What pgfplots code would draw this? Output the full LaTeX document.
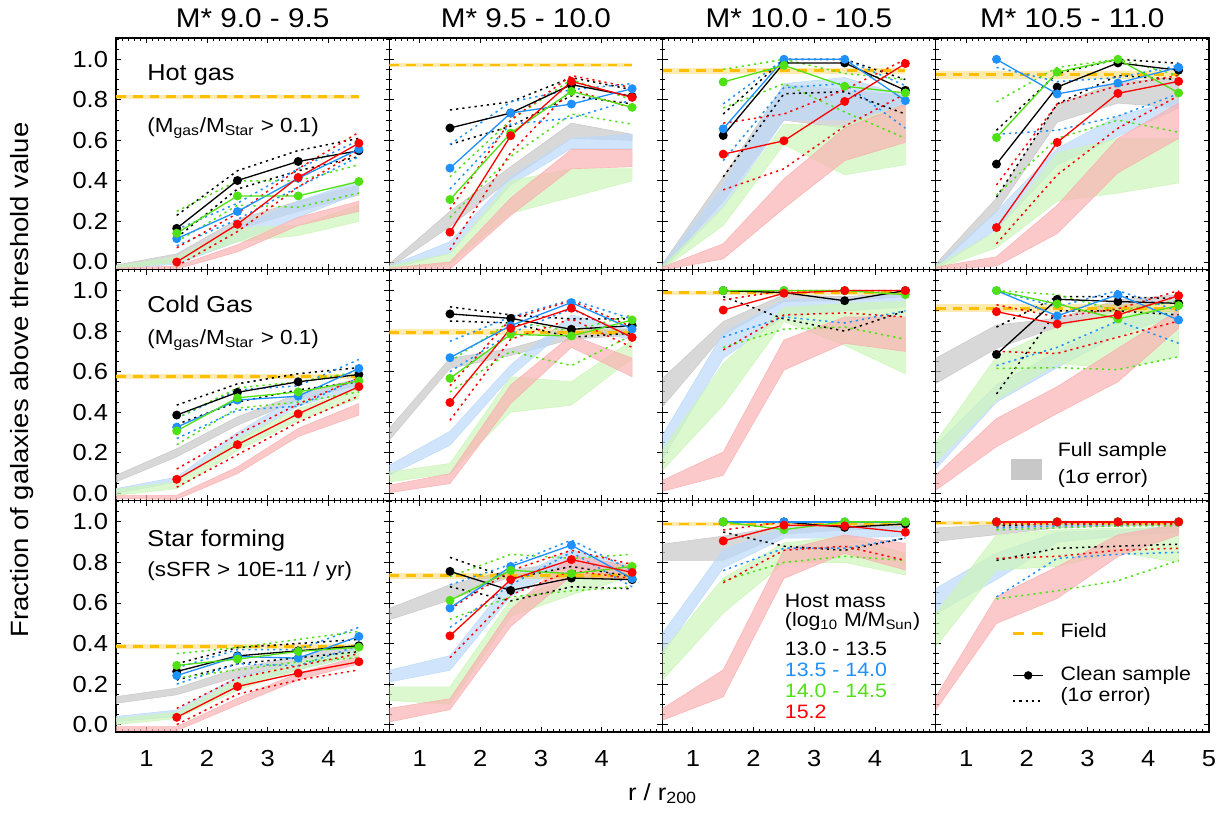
\documentclass[border=0pt]{standalone}
\usepackage{pgfplots}
\pgfplotsset{compat=1.18}
\usepackage{pgfplotstable}
\usepackage{fontspec}
\setmainfont{Liberation Sans}[FakeStretch=1.1]
\definecolor{cB}{RGB}{30,144,255}
\definecolor{cG}{RGB}{80,225,20}
\definecolor{cR}{RGB}{255,0,0}
\definecolor{cF}{RGB}{255,190,0}
\definecolor{fK}{RGB}{200,200,200}
\definecolor{fB}{RGB}{188,218,250}
\definecolor{fG}{RGB}{205,245,185}
\definecolor{fR}{RGB}{250,178,178}

\pgfplotsset{
 panel/.style={scale only axis, width=136.625pt, height=115.65pt, anchor=north west,
   xmin=0.5, xmax=5, ymin=-0.036, ymax=1.105,
   xtick={1,2,3,4,5}, ytick={0,0.2,0.4,0.6,0.8,1.0},
   minor xtick={0.6,0.7,...,4.95}, minor ytick={0,0.05,...,1.1},
   tick align=inside, major tick length=2.6pt, minor tick length=1.4pt,
   axis line style={line width=0.7pt}, every tick/.style={black, line width=0.45pt},
   xticklabels={,,,,}, yticklabels={,,,,,},
   tick label style={font=\fontsize{11.6}{12}\selectfont},
   xticklabel style={anchor=north, inner sep=0pt, yshift=-9.2pt},
   yticklabel style={anchor=east, inner sep=0pt, xshift=-3.8pt},
 },
 errdot/.style={line width=0.75pt, dash pattern=on 1.1pt off 2pt},
 clean/.style={line width=0.65pt, mark=*, mark size=1.9pt, mark options={solid}},
 bandst/.style={fill=#1, fill opacity=0.7, draw=#1, draw opacity=0.9, line width=0.3pt},
}

% #1 band polygon table (x k b g r: lower edge forward, upper edge backward)
% #2 point table, #3 field value, #4/#5 field band limits
\newcommand\errser[4]{%
  \addplot[#4, errdot] table[x=x, y=#2]{#1};
  \addplot[#4, errdot] table[x=x, y=#3]{#1};
}
\newcommand\panel[5]{%
  \addplot[bandst=fK] table[x=x, y=k]{#1};
  \addplot[bandst=fB] table[x=x, y=b]{#1};
  \addplot[bandst=fG] table[x=x, y=g]{#1};
  \addplot[bandst=fR] table[x=x, y=r]{#1};
  \addplot[draw=none, fill=cF, fill opacity=0.3] coordinates {(0.5,#4) (4.5,#4) (4.5,#5) (0.5,#5)};
  \addplot[cF, line width=1.4pt, dash pattern=on 4.9pt off 3.5pt] coordinates {(0.5,#3) (4.5,#3)};
  \errser{#2}{kl}{ku}{black}
  \errser{#2}{bl}{bu}{cB}
  \errser{#2}{gl}{gu}{cG}
  \errser{#2}{rl}{ru}{cR}
  \addplot[black, clean] table[x=x, y=k]{#2};
  \addplot[cB, clean] table[x=x, y=b]{#2};
  \addplot[cG, clean] table[x=x, y=g]{#2};
  \addplot[cR, clean] table[x=x, y=r]{#2};
}

% ---------------- data ----------------
\pgfplotstableread{
x k b g r
0.5 -0.03 -0.035 -0.035 -0.04
1.5 0.0 -0.01 0.0 -0.035
2.5 0.16 0.10 0.10 0.05
3.5 0.25 0.22 0.13 0.18
4.5 0.33 0.34 0.20 0.25
4.5 0.38 0.40 0.28 0.30
3.5 0.30 0.30 0.18 0.22
2.5 0.21 0.17 0.17 0.085
1.5 0.04 0.02 0.025 -0.02
0.5 -0.015 -0.025 -0.02 -0.03
}\bAA
\pgfplotstableread{
x k kl ku b bl bu g gl gu r rl ru
1.5 0.166 0.12 0.23 0.115 0.08 0.16 0.142 0.10 0.25 0.0 -0.02 0.07
2.5 0.402 0.36 0.45 0.249 0.21 0.29 0.326 0.28 0.40 0.186 0.15 0.24
3.5 0.496 0.45 0.55 0.413 0.37 0.46 0.326 0.27 0.40 0.417 0.37 0.46
4.5 0.549 0.52 0.61 0.557 0.52 0.60 0.397 0.34 0.48 0.586 0.55 0.64
}\pAA

\pgfplotstableread{
x k b g r
0.5 -0.03 -0.035 -0.035 -0.04
1.5 0.175 0.045 -0.01 -0.035
2.5 0.41 0.38 0.24 0.23
3.5 0.61 0.56 0.32 0.46
4.5 0.60 0.56 0.40 0.47
4.5 0.63 0.63 0.46 0.555
3.5 0.685 0.61 0.46 0.555
2.5 0.47 0.42 0.40 0.315
1.5 0.25 0.10 0.04 0.0
0.5 -0.01 -0.02 -0.02 -0.03
}\bAB
\pgfplotstableread{
x k kl ku b bl bu g gl gu r rl ru
1.5 0.661 0.58 0.75 0.463 0.36 0.58 0.308 0.22 0.42 0.147 0.06 0.26
2.5 0.735 0.67 0.79 0.735 0.68 0.79 0.636 0.52 0.70 0.623 0.54 0.70
3.5 0.875 0.82 0.91 0.779 0.71 0.85 0.842 0.73 0.90 0.891 0.85 0.92
4.5 0.817 0.78 0.85 0.855 0.80 0.88 0.763 0.68 0.80 0.812 0.76 0.86
}\pAB

\pgfplotstableread{
x k b g r
0.5 -0.03 -0.035 -0.035 -0.04
1.5 0.30 0.27 0.18 0.015
2.5 0.70 0.70 0.58 0.265
3.5 0.66 0.70 0.43 0.50
4.5 0.77 0.77 0.48 0.59
4.5 0.82 0.82 0.78 0.78
3.5 0.85 0.91 0.67 0.66
2.5 0.875 0.88 0.68 0.41
1.5 0.42 0.38 0.27 0.09
0.5 -0.01 -0.015 -0.02 -0.025
}\bAC
\pgfplotstableread{
x k kl ku b bl bu g gl gu r rl ru
1.5 0.624 0.42 0.73 0.657 0.50 0.78 0.888 0.76 0.95 0.532 0.356 0.685
2.5 0.982 0.83 1.0 1.0 0.86 1.0 0.97 0.88 1.0 0.598 0.46 0.73
3.5 0.982 0.84 1.0 1.0 0.88 1.0 0.867 0.74 0.93 0.792 0.67 0.85
4.5 0.847 0.73 0.90 0.796 0.66 0.87 0.834 0.61 0.90 0.979 0.83 1.0
}\pAC

\pgfplotstableread{
x k b g r
0.5 -0.03 -0.035 -0.035 -0.04
1.5 0.25 0.16 0.07 -0.02
2.5 0.69 0.48 0.30 0.14
3.5 0.784 0.62 0.34 0.44
4.5 0.76 0.76 0.39 0.61
4.5 0.908 0.80 0.61 0.784
3.5 0.89 0.72 0.61 0.61
2.5 0.776 0.56 0.537 0.28
1.5 0.315 0.25 0.15 0.026
0.5 -0.01 -0.02 -0.02 -0.025
}\bAD
\pgfplotstableread{
x k kl ku b bl bu g gl gu r rl ru
1.5 0.483 0.32 0.65 1.0 0.63 0.96 0.614 0.33 0.79 0.17 0.09 0.38
2.5 0.863 0.78 0.93 0.829 0.65 0.89 0.937 0.61 0.96 0.59 0.43 0.78
3.5 0.982 0.92 1.0 0.883 0.72 0.91 1.0 0.70 1.0 0.832 0.66 0.87
4.5 0.946 0.90 0.98 0.96 0.83 0.97 0.834 0.64 0.92 0.891 0.82 0.92
}\pAD

\pgfplotstableread{
x k b g r
0.5 0.056 0.0 -0.01 -0.026
1.5 0.18 0.056 0.023 -0.03
2.5 0.336 0.254 0.21 0.097
3.5 0.46 0.43 0.36 0.28
4.5 0.534 0.517 0.468 0.386
4.5 0.567 0.55 0.517 0.443
3.5 0.49 0.48 0.418 0.32
2.5 0.377 0.30 0.27 0.13
1.5 0.22 0.08 0.056 -0.01
0.5 0.089 0.023 0.02 -0.01
}\bBA
\pgfplotstableread{
x k kl ku b bl bu g gl gu r rl ru
1.5 0.386 0.34 0.435 0.326 0.27 0.37 0.308 0.24 0.37 0.069 0.03 0.12
2.5 0.498 0.45 0.54 0.46 0.41 0.51 0.471 0.42 0.52 0.24 0.19 0.29
3.5 0.55 0.51 0.59 0.479 0.43 0.53 0.50 0.45 0.55 0.392 0.35 0.44
4.5 0.586 0.55 0.62 0.616 0.57 0.66 0.554 0.50 0.60 0.526 0.48 0.57
}\pBA

\pgfplotstableread{
x k b g r
0.5 0.262 0.089 0.056 0.003
1.5 0.616 0.237 0.097 0.048
2.5 0.68 0.575 0.40 0.443
3.5 0.76 0.83 0.435 0.72
4.5 0.78 0.756 0.666 0.575
4.5 0.81 0.805 0.756 0.666
3.5 0.80 0.88 0.55 0.78
2.5 0.715 0.633 0.575 0.534
1.5 0.666 0.306 0.147 0.097
0.5 0.32 0.138 0.105 0.04
}\bBB
\pgfplotstableread{
x k kl ku b bl bu g gl gu r rl ru
1.5 0.885 0.85 0.92 0.669 0.60 0.75 0.567 0.50 0.65 0.448 0.36 0.53
2.5 0.863 0.84 0.88 0.827 0.79 0.87 0.784 0.70 0.85 0.814 0.76 0.86
3.5 0.809 0.77 0.86 0.941 0.91 0.955 0.776 0.63 0.80 0.913 0.86 0.95
4.5 0.827 0.79 0.86 0.81 0.77 0.86 0.855 0.78 0.88 0.769 0.72 0.82
}\pBB

\pgfplotstableread{
x k b g r
0.5 0.427 0.17 0.114 0.01
1.5 0.78 0.666 0.435 0.089
2.5 0.946 0.87 0.847 0.608
3.5 0.95 0.90 0.73 0.74
4.5 0.97 0.92 0.59 0.70
4.5 0.99 0.987 0.946 0.87
3.5 0.97 0.96 0.937 0.87
2.5 0.98 0.954 0.916 0.756
1.5 0.847 0.79 0.64 0.204
0.5 0.567 0.287 0.213 0.064
}\bBC
\pgfplotstableread{
x k kl ku b bl bu g gl gu r rl ru
1.5 1.0 0.97 1.0 1.0 0.77 1.0 1.0 0.72 1.0 0.904 0.707 0.954
2.5 0.99 0.86 1.0 1.0 0.87 1.0 1.0 0.81 1.0 0.987 0.88 1.0
3.5 0.95 0.80 1.0 1.0 0.84 1.0 1.0 0.82 1.0 1.0 0.89 1.0
4.5 1.0 0.90 1.0 1.0 0.90 1.0 0.98 0.76 1.0 1.0 0.87 1.0
}\pBC

\pgfplotstableread{
x k b g r
0.5 0.542 0.12 0.155 0.015
1.5 0.715 0.45 0.46 0.23
2.5 0.82 0.62 0.64 0.394
3.5 0.90 0.78 0.616 0.55
4.5 0.95 0.88 0.674 0.814
4.5 0.98 0.93 0.92 0.904
3.5 0.954 0.85 0.913 0.715
2.5 0.863 0.70 0.82 0.526
1.5 0.83 0.534 0.674 0.369
0.5 0.666 0.237 0.254 0.089
}\bBD
\pgfplotstableread{
x k kl ku b bl bu g gl gu r rl ru
1.5 0.685 0.49 0.82 1.0 0.63 1.0 1.0 0.616 1.0 0.896 0.70 0.93
2.5 0.957 0.90 0.97 0.875 0.72 0.92 0.934 0.62 0.98 0.835 0.69 0.87
3.5 0.946 0.90 0.97 0.98 0.85 1.0 0.86 0.61 0.90 0.88 0.77 0.91
4.5 0.937 0.88 0.96 0.855 0.74 0.90 0.926 0.674 0.95 0.975 0.85 1.0
}\pBD

\pgfplotstableread{
x k b g r
0.5 0.105 0.015 0.0 -0.03
1.5 0.147 0.04 0.03 -0.03
2.5 0.237 0.196 0.17 0.097
3.5 0.303 0.27 0.27 0.22
4.5 0.37 0.34 0.34 0.30
4.5 0.40 0.38 0.37 0.336
3.5 0.336 0.30 0.31 0.254
2.5 0.278 0.237 0.22 0.13
1.5 0.18 0.072 0.06 -0.01
0.5 0.138 0.04 0.03 -0.01
}\bCA
\pgfplotstableread{
x k kl ku b bl bu g gl gu r rl ru
1.5 0.262 0.22 0.30 0.242 0.20 0.28 0.292 0.23 0.35 0.036 0.0 0.08
2.5 0.339 0.30 0.38 0.336 0.30 0.37 0.323 0.27 0.38 0.188 0.15 0.23
3.5 0.364 0.33 0.40 0.328 0.29 0.37 0.361 0.31 0.42 0.254 0.22 0.29
4.5 0.389 0.36 0.42 0.435 0.39 0.48 0.382 0.33 0.46 0.31 0.27 0.35
}\pCA

\pgfplotstableread{
x k b g r
0.5 0.517 0.21 0.12 0.013
1.5 0.614 0.268 0.10 0.074
2.5 0.73 0.633 0.534 0.484
3.5 0.77 0.797 0.64 0.733
4.5 0.74 0.72 0.73 0.715
4.5 0.78 0.78 0.805 0.78
3.5 0.80 0.863 0.72 0.836
2.5 0.764 0.715 0.616 0.567
1.5 0.69 0.34 0.186 0.128
0.5 0.573 0.268 0.186 0.08
}\bCB
\pgfplotstableread{
x k kl ku b bl bu g gl gu r rl ru
1.5 0.756 0.68 0.825 0.575 0.48 0.69 0.613 0.52 0.73 0.438 0.33 0.57
2.5 0.662 0.61 0.72 0.78 0.69 0.79 0.761 0.63 0.84 0.715 0.64 0.76
3.5 0.723 0.68 0.78 0.885 0.85 0.91 0.745 0.66 0.82 0.814 0.76 0.86
4.5 0.715 0.67 0.73 0.72 0.68 0.76 0.78 0.68 0.84 0.751 0.72 0.79
}\pCB

\pgfplotstableread{
x k b g r
0.5 0.81 0.35 0.22 0.022
1.5 0.81 0.773 0.55 0.137
2.5 0.94 0.92 0.797 0.721
3.5 0.96 0.92 0.80 0.845
4.5 0.97 0.93 0.738 0.763
4.5 0.99 0.98 0.845 0.894
3.5 0.99 0.97 0.93 0.936
2.5 0.98 0.97 0.896 0.862
1.5 0.93 0.863 0.723 0.27
0.5 0.89 0.45 0.36 0.079
}\bCC
\pgfplotstableread{
x k kl ku b bl bu g gl gu r rl ru
1.5 1.0 0.95 1.0 1.0 0.76 1.0 1.0 0.71 1.0 0.906 0.70 0.96
2.5 1.0 0.88 1.0 1.0 0.87 1.0 0.962 0.80 1.0 0.984 0.86 1.0
3.5 0.973 0.86 1.0 1.0 0.87 1.0 1.0 0.83 1.0 0.98 0.88 1.0
4.5 0.99 0.92 1.0 1.0 0.92 1.0 1.0 0.81 1.0 0.949 0.81 1.0
}\pCC

\pgfplotstableread{
x k b g r
0.5 0.904 0.548 0.384 0.071
1.5 0.937 0.715 0.763 0.499
2.5 0.97 0.90 0.78 0.622
3.5 0.98 0.93 0.85 0.829
4.5 0.98 0.95 0.80 0.936
4.5 1.0 0.98 0.97 0.99
3.5 1.0 0.96 0.97 0.936
2.5 0.99 0.95 0.96 0.779
1.5 0.987 0.845 0.936 0.631
0.5 0.97 0.672 0.548 0.137
}\bCD
\pgfplotstableread{
x k kl ku b bl bu g gl gu r rl ru
1.5 1.0 0.81 0.98 1.0 0.63 0.97 1.0 0.62 0.96 1.0 0.82 0.99
2.5 1.0 0.87 0.99 1.0 0.82 0.98 1.0 0.66 0.97 1.0 0.83 0.99
3.5 1.0 0.88 0.99 1.0 0.84 0.98 1.0 0.71 0.98 1.0 0.86 0.99
4.5 1.0 0.89 0.99 1.0 0.85 0.99 1.0 0.81 0.98 1.0 0.87 0.99
}\pCD

\begin{document}
\begin{tikzpicture}
\useasboundingbox (0,0) rectangle (611pt,-407pt);

% ---- row 1
\begin{axis}[panel, at={(58pt,-19pt)}, yticklabels={0.0,0.2,0.4,0.6,0.8,1.0}]
\panel{\bAA}{\pAA}{0.815}{0.805}{0.825}
\end{axis}
\begin{axis}[panel, at={(194.625pt,-19pt)}]
\panel{\bAB}{\pAB}{0.972}{0.962}{0.982}
\end{axis}
\begin{axis}[panel, at={(331.25pt,-19pt)}]
\panel{\bAC}{\pAC}{0.944}{0.929}{0.959}
\end{axis}
\begin{axis}[panel, at={(467.875pt,-19pt)}]
\panel{\bAD}{\pAD}{0.924}{0.904}{0.944}
\end{axis}

% ---- row 2
\begin{axis}[panel, at={(58pt,-134.65pt)}, yticklabels={0.0,0.2,0.4,0.6,0.8,1.0}]
\panel{\bBA}{\pBA}{0.578}{0.566}{0.590}
\end{axis}
\begin{axis}[panel, at={(194.625pt,-134.65pt)}]
\panel{\bBB}{\pBB}{0.794}{0.779}{0.809}
\end{axis}
\begin{axis}[panel, at={(331.25pt,-134.65pt)}]
\panel{\bBC}{\pBC}{0.99}{0.98}{1.0}
\end{axis}
\begin{axis}[panel, at={(467.875pt,-134.65pt)},
  legend style={at={(0.2783,0.2693)}, anchor=north west, draw=none, fill=none,
    inner sep=0pt, outer sep=0pt, row sep=0pt,
    font=\fontsize{9.7}{10.7}\selectfont,
    nodes={inner sep=0pt, text height=9pt, text depth=4.35pt},
    /tikz/every odd column/.append style={column sep=8pt}},
  legend cell align=left]
\addlegendimage{legend image code/.code={\path[draw=none, fill=none] (0pt,0pt) -- (15pt,0pt);}}
\addlegendentry{Full sample}
\addlegendimage{legend image code/.code={\path[draw=none, fill=none] (0pt,0pt) -- (15pt,0pt); \fill[fK, overlay] (0pt,-0.675pt) rectangle (15pt,9.3pt);}}
\addlegendentry{(1σ error)}
\panel{\bBD}{\pBD}{0.913}{0.893}{0.933}
\end{axis}

% ---- row 3
\begin{axis}[panel, at={(58pt,-250.3pt)}, yticklabels={0.0,0.2,0.4,0.6,0.8,1.0}, xticklabels={1,2,3,4,}]
\panel{\bCA}{\pCA}{0.385}{0.373}{0.397}
\end{axis}
\begin{axis}[panel, at={(194.625pt,-250.3pt)}, xticklabels={1,2,3,4,}]
\panel{\bCB}{\pCB}{0.735}{0.72}{0.75}
\end{axis}
\begin{axis}[panel, at={(331.25pt,-250.3pt)}, xticklabels={1,2,3,4,}]
\panel{\bCC}{\pCC}{0.99}{0.98}{1.0}
\end{axis}
\begin{axis}[panel, at={(467.875pt,-250.3pt)}, xticklabels={1,2,3,4,5},
  legend style={at={(0.2783,0.4773)}, anchor=north west, draw=none, fill=none,
    inner sep=0pt, outer sep=0pt, row sep=0pt,
    font=\fontsize{9.7}{10.7}\selectfont,
    nodes={inner sep=0pt, text height=7.9pt, text depth=2.8pt},
    /tikz/every odd column/.append style={column sep=8pt}},
  legend cell align=left]
\addlegendimage{legend image code/.code={\draw[cF, line width=1.4pt, dash pattern=on 5.5pt off 4pt] (0pt,-0.75pt) -- (15pt,-0.75pt);}}
\addlegendentry{Field}
\addlegendimage{legend image code/.code={\path[draw=none, fill=none] (0pt,0pt) -- (15pt,0pt);}}
\addlegendentry{}
\addlegendimage{legend image code/.code={\draw[black, line width=0.65pt] (0pt,-0.2pt) -- (15pt,-0.2pt); \fill[black] (7.5pt,-0.2pt) circle (1.9pt);}}
\addlegendentry{Clean sample}
\addlegendimage{legend image code/.code={\draw[black, line width=0.75pt, dash pattern=on 1.1pt off 2pt] (0pt,-2.2pt) -- (15pt,-2.2pt);}}
\addlegendentry{(1σ error)}
\panel{\bCD}{\pCD}{0.995}{0.985}{1.005}
\end{axis}

% ---- titles
\begin{scope}[font=\fontsize{13.5}{14}\selectfont]
\node[anchor=base, inner sep=0pt] at (126.3pt,-13.5pt) {M* 9.0 - 9.5};
\node[anchor=base, inner sep=0pt] at (262.9pt,-13.5pt) {M* 9.5 - 10.0};
\node[anchor=base, inner sep=0pt] at (399.5pt,-13.5pt) {M* 10.0 - 10.5};
\node[anchor=base, inner sep=0pt] at (536.1pt,-13.5pt) {M* 10.5 - 11.0};
\end{scope}

% ---- panel annotations
\node[anchor=base west, inner sep=0pt, font=\fontsize{11.5}{12}\selectfont] at (73.5pt,-40.25pt) {Hot gas};
\node[anchor=base west, inner sep=0pt, font=\fontsize{10.2}{12}\selectfont] at (73.5pt,-66.15pt) {(M\textsubscript{gas}/M\textsubscript{Star} > 0.1)};
\node[anchor=base west, inner sep=0pt, font=\fontsize{11.5}{12}\selectfont] at (73.5pt,-156pt) {Cold Gas};
\node[anchor=base west, inner sep=0pt, font=\fontsize{10.2}{12}\selectfont] at (73.5pt,-172.35pt) {(M\textsubscript{gas}/M\textsubscript{Star} > 0.1)};
\node[anchor=base west, inner sep=0pt, font=\fontsize{11.5}{12}\selectfont] at (73.5pt,-273pt) {Star forming};
\node[anchor=base west, inner sep=0pt, font=\fontsize{10.2}{12}\selectfont] at (73.5pt,-288.35pt) {(sSFR > 10E-11 / yr)};

% ---- host mass legend (text)
\begin{scope}[font=\fontsize{9.7}{11}\selectfont]
\node[anchor=base west, inner sep=0pt] at (392.25pt,-303.5pt) {Host mass};
\node[anchor=base west, inner sep=0pt] at (392.25pt,-313.3pt) {(log\textsubscript{10} M/M\textsubscript{Sun})};
\node[anchor=base west, inner sep=0pt] at (392.25pt,-327.65pt) {13.0 - 13.5};
\node[anchor=base west, inner sep=0pt, text=cB] at (392.25pt,-338.15pt) {13.5 - 14.0};
\node[anchor=base west, inner sep=0pt, text=cG] at (392.25pt,-348.5pt) {14.0 - 14.5};
\node[anchor=base west, inner sep=0pt, text=cR] at (392.25pt,-359.35pt) {15.2};
\end{scope}

% ---- axis labels
\node[rotate=90, anchor=center, inner sep=0pt, font=\fontsize{12.5}{13}\selectfont] at (11.2pt,-190pt) {Fraction of galaxies above threshold value};
\node[anchor=base, inner sep=0pt, font=\fontsize{11.6}{12}\selectfont] at (331.3pt,-400pt) {r / r\textsubscript{200}};
\end{tikzpicture}
\end{document}
